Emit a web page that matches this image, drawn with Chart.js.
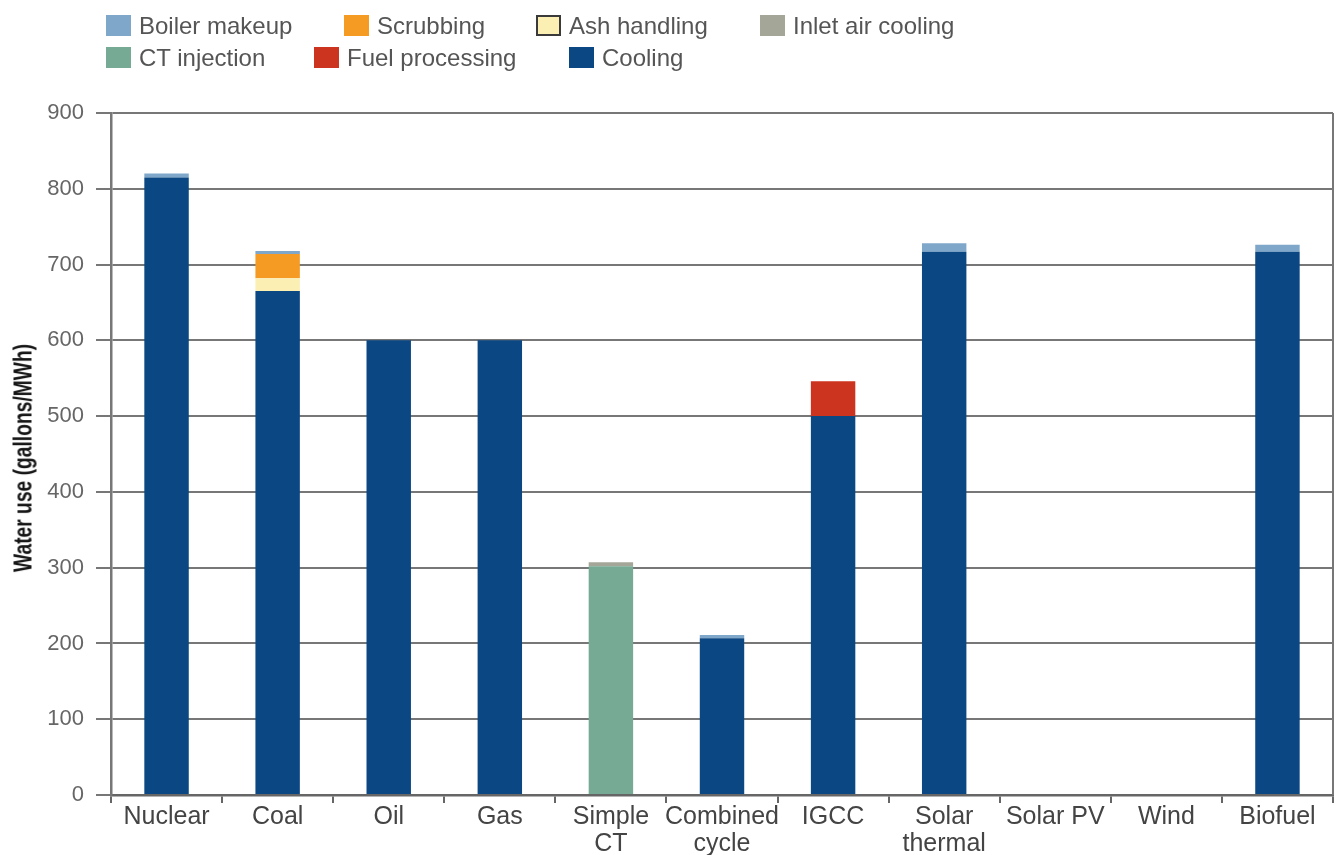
<!DOCTYPE html>
<html>
<head>
<meta charset="utf-8">
<script src="https://cdn.jsdelivr.net/npm/chart.js@4/dist/chart.umd.min.js"></script>
<style>
  html, body { margin: 0; padding: 0; background: #fff; }
  #wrap { position: relative; width: 1343px; height: 855px; }
  #waterChart { position: absolute; left: 0; top: 0; }
  .lg { position: absolute; font-family: "Liberation Sans", Arial, sans-serif;
        font-size: 24px; color: #555; white-space: nowrap; line-height: 24px; }
  .lg i { position: absolute; left: 0; top: 1px; width: 25px; height: 21px; box-sizing: border-box; }
  .lg span { position: absolute; top: 0; }
  #yTitle { position: absolute; left: 23px; top: 458px; white-space: nowrap;
            font-family: "Liberation Sans", Arial, sans-serif; font-weight: bold; font-size: 25px;
            color: #151515; transform: translate(-50%, -50%) rotate(-90deg) scaleX(0.77); }
</style>
</head>
<body>
<div id="wrap">
  <canvas id="waterChart" width="1343" height="855"></canvas>
  <div id="yTitle">Water use (gallons/MWh)</div>
</div>
<script>
// Категории и значения (галлоны на МВт·ч)
const categories = ['Nuclear', 'Coal', 'Oil', 'Gas', ['Simple', 'CT'], ['Combined', 'cycle'],
                    'IGCC', ['Solar', 'thermal'], 'Solar PV', 'Wind', 'Biofuel'];

const cooling        = [815, 665, 600, 600,   0, 207, 500, 717, 0, 0, 717];
const ctInjection    = [  0,   0,   0,   0, 302,   0,   0,   0, 0, 0,   0];
const ashHandling    = [  0,  17,   0,   0,   0,   0,   0,   0, 0, 0,   0];
const scrubbing      = [  0,  32,   0,   0,   0,   0,   0,   0, 0, 0,   0];
const fuelProcessing = [  0,   0,   0,   0,   0,   0,  46,   0, 0, 0,   0];
const inletAirCool   = [  0,   0,   0,   0,   5,   0,   0,   0, 0, 0,   0];
const boilerMakeup   = [  5,   4,   0,   0,   0,   4,   0,  11, 0, 0,   9];

const yTicks = [0, 100, 200, 300, 400, 500, 600, 700, 800, 900];

// Порядок в стеке: снизу вверх
const datasets = [
    { label: 'Cooling',           data: cooling,        backgroundColor: '#0b4783' },
    { label: 'CT injection',      data: ctInjection,    backgroundColor: '#76aa94' },
    { label: 'Ash handling',      data: ashHandling,    backgroundColor: '#fbefb4' },
    { label: 'Scrubbing',         data: scrubbing,      backgroundColor: '#f59b24' },
    { label: 'Fuel processing',   data: fuelProcessing, backgroundColor: '#cc3420' },
    { label: 'Inlet air cooling', data: inletAirCool,   backgroundColor: '#a4a798' },
    { label: 'Boiler makeup',     data: boilerMakeup,   backgroundColor: '#7fa7c9' }
].map(d => ({ ...d, barPercentage: 0.4, categoryPercentage: 1, borderWidth: 0 }));

// Легенда в HTML: две строки
const legendItems = [
    { label: 'Boiler makeup',     x: 106, y: 14 },
    { label: 'Scrubbing',         x: 344, y: 14 },
    { label: 'Ash handling',      x: 536, y: 14, outline: true },
    { label: 'Inlet air cooling', x: 760, y: 14 },
    { label: 'CT injection',      x: 106, y: 46 },
    { label: 'Fuel processing',   x: 314, y: 46 },
    { label: 'Cooling',           x: 569, y: 46 }
];

const wrap = document.getElementById('wrap');
legendItems.forEach(item => {
    const ds = datasets.find(d => d.label === item.label);
    const el = document.createElement('div');
    el.className = 'lg';
    el.style.left = item.x + 'px';
    el.style.top = item.y + 'px';
    const box = document.createElement('i');
    box.style.background = ds.backgroundColor;
    if (item.outline) box.style.border = '2px solid #3a3a3a';
    const txt = document.createElement('span');
    txt.style.left = '33px';
    txt.textContent = item.label;
    el.appendChild(box);
    el.appendChild(txt);
    wrap.appendChild(el);
});

// Правая рамка области графика
const rightFrame = {
    id: 'rightFrame',
    afterDraw(chart) {
        const { ctx, chartArea } = chart;
        ctx.save();
        ctx.strokeStyle = '#777';
        ctx.lineWidth = 2;
        ctx.beginPath();
        ctx.moveTo(chartArea.right, chartArea.top);
        ctx.lineTo(chartArea.right, chartArea.bottom);
        ctx.stroke();
        ctx.restore();
    }
};

new Chart(document.getElementById('waterChart'), {
    type: 'bar',
    data: { labels: categories, datasets },
    plugins: [rightFrame],
    options: {
        responsive: false,
        animation: false,
        layout: { padding: { top: 113, right: 10, bottom: 0, left: 0 } },
        plugins: { legend: { display: false }, tooltip: { enabled: false } },
        scales: {
            x: {
                stacked: true,
                grid: { drawOnChartArea: false, drawTicks: true, tickLength: 8, offset: true,
                        color: '#666', lineWidth: 2 },
                border: { color: '#666', width: 2.5 },
                ticks: { color: '#444', font: { family: 'Liberation Sans, Arial, sans-serif', size: 25, lineHeight: 1.1 },
                         padding: 0, maxRotation: 0, autoSkip: false },
                afterFit: axis => { axis.height = 60; }
            },
            y: {
                stacked: true,
                min: 0, max: 900,
                afterBuildTicks: axis => { axis.ticks = yTicks.map(v => ({ value: v })); },
                grid: { color: '#777', lineWidth: 2, tickLength: 15 },
                border: { color: '#777', width: 2.5 },
                ticks: { color: '#666', font: { family: 'Liberation Sans, Arial, sans-serif', size: 22 },
                         padding: 12 },
                afterFit: axis => { axis.width = 111; }
            }
        }
    }
});
</script>
</body>
</html>
